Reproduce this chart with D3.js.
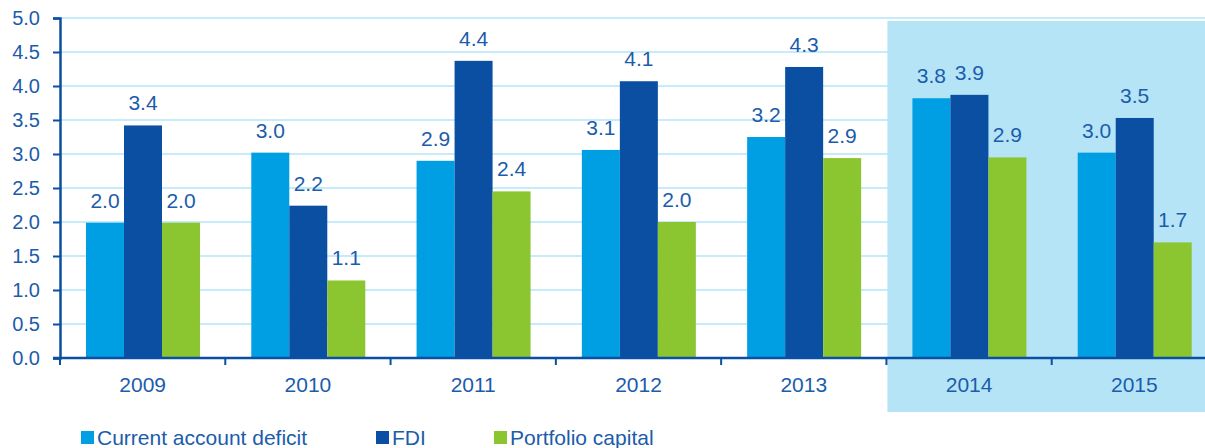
<!DOCTYPE html>
<html>
<head>
<meta charset="utf-8">
<script src="https://cdnjs.cloudflare.com/ajax/libs/d3/7.8.5/d3.min.js"></script>
<style>
  body { margin: 0; background: #fff; font-family: "Liberation Sans", Arial, sans-serif; }
  svg { display: block; }
  .tick-label, .val-label, .legend text { fill: #1b5cab; }
  .val-label, .x-label { font-size: 21px; }
  .y-label { font-size: 20px; }
  .legend text { font-size: 21px; }
</style>
</head>
<body>
<script>

// chart values
var years = ["2009", "2010", "2011", "2012", "2013", "2014", "2015"];
var seriesNames = ["Current account deficit", "FDI", "Portfolio capital"];
var currentAccount = [1.99, 3.02, 2.90, 3.06, 3.25, 3.82, 3.02];
var fdi            = [3.42, 2.24, 4.37, 4.07, 4.28, 3.87, 3.53];
var portfolio      = [1.99, 1.14, 2.45, 2.00, 2.94, 2.95, 1.70];
var currentLabels  = ["2.0", "3.0", "2.9", "3.1", "3.2", "3.8", "3.0"];
var fdiLabels      = ["3.4", "2.2", "4.4", "4.1", "4.3", "3.9", "3.5"];
var portLabels     = ["2.0", "1.1", "2.4", "2.0", "2.9", "2.9", "1.7"];
var yTicks = [0, 0.5, 1, 1.5, 2, 2.5, 3, 3.5, 4, 4.5, 5];
var highlighted = ["2014", "2015"];

var colors = ["#009fe3", "#0b4fa3", "#8bc630"];

var W = 1205, H = 448;
var svg = d3.select("body").append("svg").attr("width", W).attr("height", H);

var x0 = d3.scaleBand().domain(years).range([60, 1217]);
var x1 = d3.scaleBand().domain(d3.range(3)).range([26, 140]).paddingInner(0);
var y = d3.scaleLinear().domain([0, 5]).range([358, 18]);

// gridlines
svg.append("g").selectAll("line")
    .data(yTicks.slice(1))
  .enter().append("line")
    .attr("x1", 60).attr("x2", W)
    .attr("y1", function(d) { return y(d); })
    .attr("y2", function(d) { return y(d); })
    .attr("stroke", "#b3e4f8").attr("stroke-width", 1.5);

// forecast highlight
svg.append("rect")
    .attr("x", x0(highlighted[0]) + 1)
    .attr("y", 21)
    .attr("width", W - x0(highlighted[0]))
    .attr("height", 412 - 21)
    .attr("fill", "#b5e4f7");

var series = [
  { vals: currentAccount, labels: currentLabels },
  { vals: fdi, labels: fdiLabels },
  { vals: portfolio, labels: portLabels }
];

var bars = [];
series.forEach(function(s, i) {
  years.forEach(function(yr, j) {
    bars.push({ year: yr, s: i, v: s.vals[j], label: s.labels[j] });
  });
});

svg.append("g").selectAll("rect")
    .data(bars)
  .enter().append("rect")
    .attr("x", function(d) { return x0(d.year) + x1(d.s); })
    .attr("width", x1.bandwidth())
    .attr("y", function(d) { return y(d.v); })
    .attr("height", function(d) { return y(0) - y(d.v); })
    .attr("fill", function(d) { return colors[d.s]; });

svg.append("g").selectAll("text")
    .data(bars)
  .enter().append("text")
    .attr("class", "val-label")
    .attr("x", function(d) { return x0(d.year) + x1(d.s) + x1.bandwidth() / 2; })
    .attr("y", function(d) { return y(d.v) - 15; })
    .attr("text-anchor", "middle")
    .text(function(d) { return d.label; });

// y axis
var yAxis = svg.append("g")
    .attr("transform", "translate(60,0)")
    .call(d3.axisLeft(y).tickValues(yTicks).tickFormat(d3.format(".1f")).tickSize(7).tickPadding(13));
yAxis.select(".domain").attr("stroke", "#0b4fa3").attr("stroke-width", 2.5);
yAxis.selectAll(".tick line").attr("stroke", "#0b4fa3").attr("stroke-width", 2);
yAxis.selectAll(".tick text").attr("class", "tick-label y-label")
    .attr("font-family", null).attr("font-size", null).attr("fill", null);
yAxis.attr("font-size", null).attr("font-family", null);

// x axis
var xAxis = svg.append("g")
    .attr("transform", "translate(0,358)");
xAxis.append("line")
    .attr("x1", 53).attr("x2", W)
    .attr("stroke", "#0b4fa3").attr("stroke-width", 2.5);
xAxis.selectAll("line.xt")
    .data(years)
  .enter().append("line")
    .attr("class", "xt")
    .attr("x1", function(d) { return x0(d); })
    .attr("x2", function(d) { return x0(d); })
    .attr("y1", 0).attr("y2", 7)
    .attr("stroke", "#0b4fa3").attr("stroke-width", 2);
xAxis.selectAll("text")
    .data(years)
  .enter().append("text")
    .attr("class", "tick-label x-label")
    .attr("x", function(d) { return x0(d) + x0.bandwidth() / 2; })
    .attr("y", 34)
    .attr("text-anchor", "middle")
    .text(function(d) { return d; });

// legend
var legendX = [81, 376, 494];
var legend = svg.append("g").attr("class", "legend");
var items = legend.selectAll("g")
    .data(seriesNames)
  .enter().append("g")
    .attr("transform", function(d, i) { return "translate(" + legendX[i] + ",0)"; });
items.append("rect")
    .attr("x", 0).attr("y", 431).attr("width", 13).attr("height", 13)
    .attr("fill", function(d, i) { return colors[i]; });
items.append("text")
    .attr("x", 16).attr("y", 445)
    .text(function(d) { return d; });

</script>
</body>
</html>
